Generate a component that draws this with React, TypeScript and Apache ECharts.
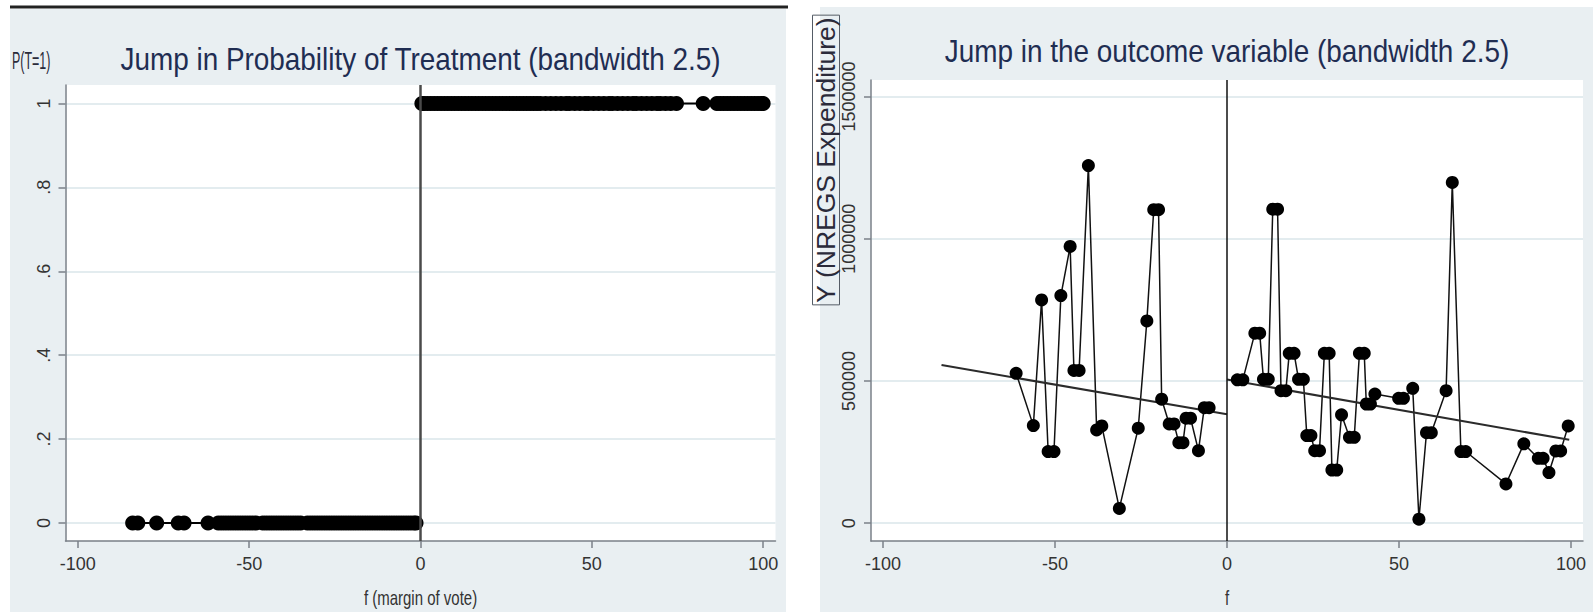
import React, { useEffect, useRef } from "react";
import * as echarts from "echarts";

// ---------- tick values ----------
const xTicks = [-100, -50, 0, 50, 100];
const probYTicks = [0, 0.2, 0.4, 0.6, 0.8, 1];
const outYTicks = [0, 500000, 1000000, 1500000];

// ---------- left chart: P(T=1) ----------
const untreatedP = 0;
const treatedP = 1;
const untreatedX = [
  -84, -82.5, -77, -70.7, -69, -62, -59, -58, -57, -56, -55, -54, -53, -52, -51, -50,
  -49, -48, -46, -45, -44, -43, -42, -41, -40, -39, -38, -37, -36, -35, -33, -32, -31,
  -30, -29, -28, -27, -26, -25, -24, -23, -22, -21, -20, -19, -18, -17, -16, -15, -14,
  -13, -12, -11, -10, -9, -8, -7, -6, -5, -4, -3, -2, -1.3,
];
const treatedX = [
  0.4, 1, 2, 3, 4, 5, 6, 7, 8, 9, 10, 11, 12, 13, 14, 15, 16, 17, 18, 19, 20, 21, 22, 23,
  24, 25, 26, 27, 28, 29, 30, 31, 32, 33, 34, 35, 36.5, 38, 39.5, 41, 42.5, 43.5, 45,
  46.5, 48, 49, 50.5, 52, 53.5, 55, 56, 57.5, 59, 60.5, 62, 63, 64.5, 66, 67.5, 69, 70,
  71.5, 73, 74.7, 82.5, 86.5, 87.5, 88.5, 89.5, 90.5, 91.5, 92.5, 93.5, 94.5, 95.5, 96.5,
  97.5, 98.5, 99.5, 100,
];

// ---------- right chart: outcome ----------
const outLeftX = [
  -61.3, -56.3, -53.9, -52, -50.3, -48.3, -45.6, -44.5, -43, -40.3, -37.9, -36.4, -31.3,
  -25.8, -23.3, -21.3, -19.9, -19, -16.8, -15.4, -14, -12.8, -11.9, -10.6, -8.3, -6.6, -5.2,
];
const outLeftY = [
  527000, 343000, 785000, 252000, 252000, 800000, 973000, 537000, 537000, 1257000, 328000,
  342000, 52000, 334000, 711000, 1102000, 1102000, 436000, 349000, 349000, 283000, 283000,
  369000, 369000, 255000, 406000, 406000,
];
const outRightX = [
  3, 4.6, 8.1, 9.5, 10.6, 12, 13.3, 14.7, 15.7, 17.1, 18.1, 19.5, 20.8, 22.2, 23.2, 24.4,
  25.5, 26.9, 28.3, 29.7, 30.5, 31.9, 33.3, 35.6, 37, 38.5, 39.9, 40.5, 41.7, 43, 49.9, 51.3,
  54, 55.8, 58, 59.4, 63.7, 65.5, 68, 69.4, 81.1, 86.3, 90.5, 91.9, 93.6, 95.6, 97, 99.2,
];
const outRightY = [
  504000, 504000, 668000, 668000, 506000, 506000, 1104000, 1104000, 466000, 466000, 597000,
  597000, 506000, 506000, 308000, 308000, 255000, 255000, 597000, 597000, 187000, 187000,
  381000, 302000, 302000, 597000, 597000, 419000, 419000, 454000, 439000, 439000, 474000,
  14000, 318000, 318000, 466000, 1198000, 252000, 252000, 138000, 279000, 228000, 228000,
  178000, 254000, 254000, 342000,
];
const fitLeftX = [-83, 0];
const fitLeftY = [556000, 383000];
const fitRightX = [0, 99.5];
const fitRightY = [505000, 293000];

const cutoff = 0;

// ---------- styles ----------
const SANS = "'Liberation Sans', Arial, sans-serif";
const PANEL = "#e9eff2";
const GRIDC = "#e3ecef";
const AXC = "#7a8088";
const TITLEC = "#1f2d52";
const LABELC = "#333";

const zip = (xs: number[], ys: number[]) => xs.map((x, i) => [x, ys[i]]);

function xAxisCfg(gridIndex: number, min: number, max: number) {
  return {
    gridIndex,
    type: "value",
    min,
    max,
    axisLine: { show: true, onZero: false, lineStyle: { color: AXC, width: 1.5 } },
    axisTick: { show: true, length: 7, customValues: xTicks, lineStyle: { color: AXC, width: 1.5 } },
    axisLabel: {
      customValues: xTicks,
      formatter: (v: number) => String(v),
      margin: 14,
      fontSize: 18,
      fontFamily: SANS,
      color: LABELC,
    },
    splitLine: { show: false },
  };
}

function yAxisCfg(gridIndex: number, min: number, max: number, ticks: number[], fmt: (v: number) => string) {
  return {
    gridIndex,
    type: "value",
    min,
    max,
    axisLine: { show: true, onZero: false, lineStyle: { color: AXC, width: 1.5 } },
    axisTick: { show: true, length: 7, customValues: ticks, lineStyle: { color: AXC, width: 1.5 } },
    axisLabel: {
      customValues: ticks,
      formatter: fmt,
      rotate: 90,
      margin: 13,
      fontSize: 18,
      fontFamily: SANS,
      color: LABELC,
    },
    splitLine: { show: true, lineStyle: { color: GRIDC, width: 2 } },
  };
}

const probFmt = (v: number) => (v === 0 ? "0" : v === 1 ? "1" : String(v).replace(/^0/, ""));

export default function App() {
  const ref = useRef<HTMLDivElement>(null);
  useEffect(() => {
    const chart = echarts.init(ref.current!, null, { renderer: "svg" });
    const option: any = {
      animation: false,
      backgroundColor: "#fff",
      graphic: [
        { type: "rect", z: -20, silent: true, shape: { x: 10, y: 9, width: 776, height: 603 }, style: { fill: PANEL } },
        { type: "line", z: -19, silent: true, shape: { x1: 10, y1: 7, x2: 788, y2: 7 }, style: { stroke: "#222", lineWidth: 3 } },
        { type: "rect", z: -20, silent: true, shape: { x: 820, y: 7, width: 773, height: 605 }, style: { fill: PANEL } },
        {
          type: "text", x: 420.5, y: 59, scaleX: 0.9, silent: true,
          style: { text: "Jump in Probability of Treatment (bandwidth 2.5)", fontSize: 31, fontFamily: SANS, fill: TITLEC, align: "center", verticalAlign: "middle" },
        },
        {
          type: "text", x: 1227, y: 51, scaleX: 0.9, silent: true,
          style: { text: "Jump in the outcome variable (bandwidth 2.5)", fontSize: 31, fontFamily: SANS, fill: TITLEC, align: "center", verticalAlign: "middle" },
        },
        {
          type: "text", x: 12, y: 61, scaleX: 0.52, silent: true,
          style: { text: "P(T=1)", fontSize: 24, fontFamily: SANS, fill: "#2a2a3a", align: "left", verticalAlign: "middle" },
        },
        {
          type: "text", x: 826, y: 160, rotation: Math.PI / 2, silent: true,
          style: {
            text: "Y (NREGS Expenditure)", fontSize: 26.5, fontFamily: SANS, fill: "#2a2a3a", align: "center", verticalAlign: "middle",
            borderColor: "#555c66", borderWidth: 1, padding: [0, 2, 0, 2],
          },
        },
        {
          type: "text", x: 420.5, y: 598, scaleX: 0.75, silent: true,
          style: { text: "f (margin of vote)", fontSize: 20, fontFamily: SANS, fill: LABELC, align: "center", verticalAlign: "middle" },
        },
        {
          type: "text", x: 1227, y: 598, scaleX: 0.75, silent: true,
          style: { text: "f", fontSize: 20, fontFamily: SANS, fill: LABELC, align: "center", verticalAlign: "middle" },
        },
      ],
      grid: [
        { left: 65.5, top: 85, width: 710, height: 456, show: true, backgroundColor: "#fff", borderWidth: 0 },
        { left: 871, top: 80, width: 712, height: 461, show: true, backgroundColor: "#fff", borderWidth: 0 },
      ],
      xAxis: [xAxisCfg(0, -103.6, 103.6), xAxisCfg(1, -103.5, 103.5)],
      yAxis: [
        yAxisCfg(0, -0.043, 1.044, probYTicks, probFmt),
        yAxisCfg(1, -62600, 1558000, outYTicks, (v: number) => String(v)),
      ],
      series: [
        {
          type: "line", xAxisIndex: 0, yAxisIndex: 0,
          data: untreatedX.map((x) => [x, untreatedP]),
          symbol: "circle", symbolSize: 15, showSymbol: true,
          lineStyle: { color: "#000", width: 2 }, itemStyle: { color: "#000" },
          markLine: {
            silent: true, symbol: "none", label: { show: false },
            lineStyle: { color: "#4a4a4a", width: 2.5, type: "solid" },
            data: [{ xAxis: cutoff }],
          },
        },
        {
          type: "line", xAxisIndex: 0, yAxisIndex: 0,
          data: treatedX.map((x) => [x, treatedP]),
          symbol: "circle", symbolSize: 15, showSymbol: true,
          lineStyle: { color: "#000", width: 2 }, itemStyle: { color: "#000" },
        },
        {
          type: "line", xAxisIndex: 1, yAxisIndex: 1,
          data: zip(outLeftX, outLeftY),
          symbol: "circle", symbolSize: 13, showSymbol: true,
          lineStyle: { color: "#111", width: 1.5 }, itemStyle: { color: "#000" },
          markLine: {
            silent: true, symbol: "none", label: { show: false },
            lineStyle: { color: "#111", width: 1.5, type: "solid" },
            data: [{ xAxis: cutoff }],
          },
        },
        {
          type: "line", xAxisIndex: 1, yAxisIndex: 1,
          data: zip(outRightX, outRightY),
          symbol: "circle", symbolSize: 13, showSymbol: true,
          lineStyle: { color: "#111", width: 1.5 }, itemStyle: { color: "#000" },
        },
        {
          type: "line", xAxisIndex: 1, yAxisIndex: 1,
          data: zip(fitLeftX, fitLeftY),
          symbol: "none", showSymbol: false,
          lineStyle: { color: "#2b2b2b", width: 2 },
        },
        {
          type: "line", xAxisIndex: 1, yAxisIndex: 1,
          data: zip(fitRightX, fitRightY),
          symbol: "none", showSymbol: false,
          lineStyle: { color: "#2b2b2b", width: 2 },
        },
      ],
    };
    chart.setOption(option);
    return () => chart.dispose();
  }, []);
  return (
    <div
      ref={ref}
      style={{ position: "fixed", left: 0, top: 0, width: 1593, height: 612, background: "#fff" }}
    />
  );
}
